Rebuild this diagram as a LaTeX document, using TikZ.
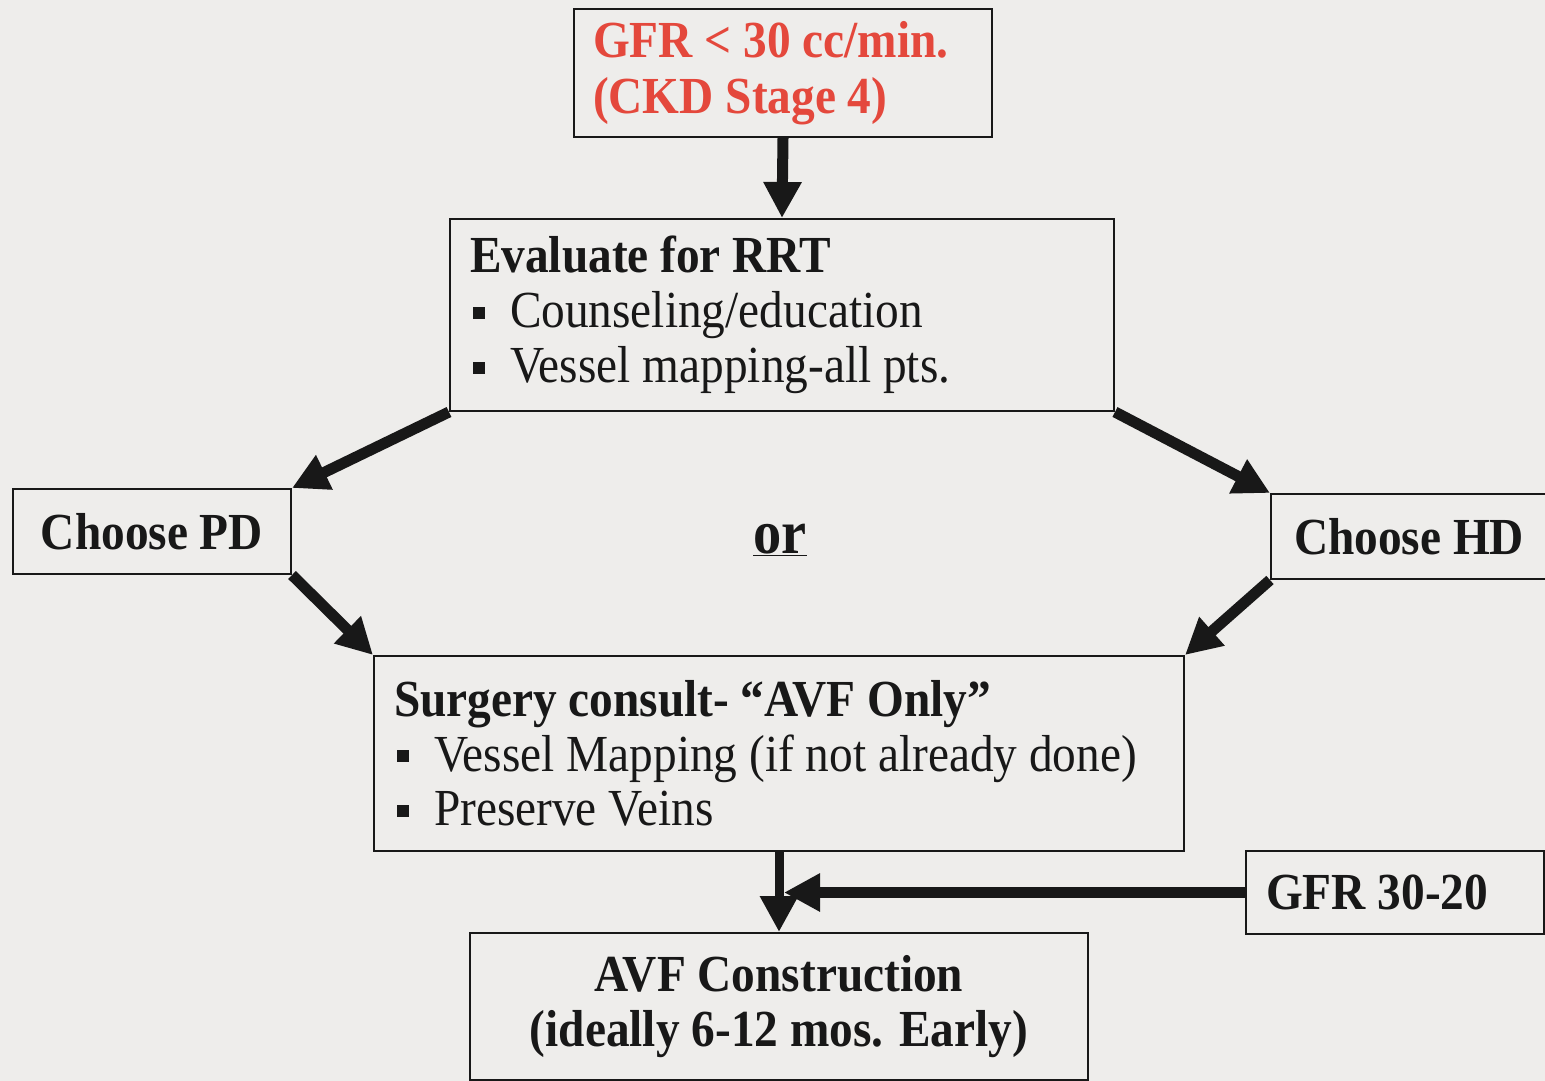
\documentclass[tikz,border=0pt]{standalone}
\usepackage{fontspec}
\setmainfont[FakeStretch=0.91]{Liberation Serif}
\usetikzlibrary{arrows.meta}

\definecolor{paper}{RGB}{238,237,235}
\definecolor{ink}{RGB}{24,24,24}
\definecolor{gfrred}{RGB}{228,72,60}

\newcommand{\sqitem}{\hspace*{3pt}\rule[9pt]{12pt}{12pt}\hspace{25pt}}

\begin{document}
\begin{tikzpicture}[x=1pt,y=-1pt,
    box/.style={draw=ink,line width=2pt,anchor=north west,inner sep=0pt,inner xsep=20pt,
        text=ink,font=\fontsize{52}{55}\selectfont},
    boldbox/.style={box,font=\bfseries\fontsize{52}{55}\selectfont},
    flow/.style={draw=ink,line width=11pt,-{Triangle[length=36pt,width=36pt]}}]
\path[fill=paper,use as bounding box] (0,0) rectangle (1545,1081);

\node[boldbox,inner xsep=19pt,text width=380pt,align=flush left,minimum height=128pt,
    text=gfrred,font=\bfseries\fontsize{52}{56}\selectfont] (gfr) at (573,8)
    {GFR < 30 cc/min.\\(CKD Stage 4)};
\node[box,text width=624pt,align=flush left,minimum height=192pt] (rrt) at (449,218)
    {\textbf{Evaluate for RRT}\\\sqitem Counseling/education\\\sqitem Vessel mapping-all pts.};
\node[boldbox,minimum width=278pt,minimum height=85pt] (pd) at (12,488) {Choose PD};
\node[boldbox,inner xsep=23pt,text width=252pt,align=flush left,minimum height=85pt] (hd) at (1270,493) {Choose HD};
\node[text=ink,font=\bfseries\fontsize{62}{62}\selectfont] (or) at (780,540) {\underline{or}};
\node[box,text width=770pt,align=flush left,minimum height=195pt,font=\fontsize{52}{54.5}\selectfont] (surg) at (373,655)
    {\textbf{Surgery consult- “AVF Only”}\\\sqitem Vessel Mapping (if not already done)\\\sqitem Preserve Veins};
\node[boldbox,text width=258pt,align=flush left,minimum height=83pt] (range) at (1245,850) {GFR 30-20};
\node[boldbox,minimum width=618pt,minimum height=147pt,align=center] (avf) at (469,932)
    {AVF Construction\\(ideally 6-12 mos. Early)};

\draw[flow] (gfr.south) -- (rrt.north);
\draw[flow] (rrt.south west) -- (pd.north east);
\draw[flow] (rrt.south east) -- (hd.north west);
\draw[flow] (pd.south east) -- (surg.north west);
\draw[flow] (hd.south west) -- (surg.north east);
\draw[flow,line width=9pt] (surg.south) -- (avf.north);
\coordinate[xshift=5pt] (meet) at (surg.south |- range.west);
\draw[flow] (range.west) -- (meet);
\end{tikzpicture}
\end{document}
